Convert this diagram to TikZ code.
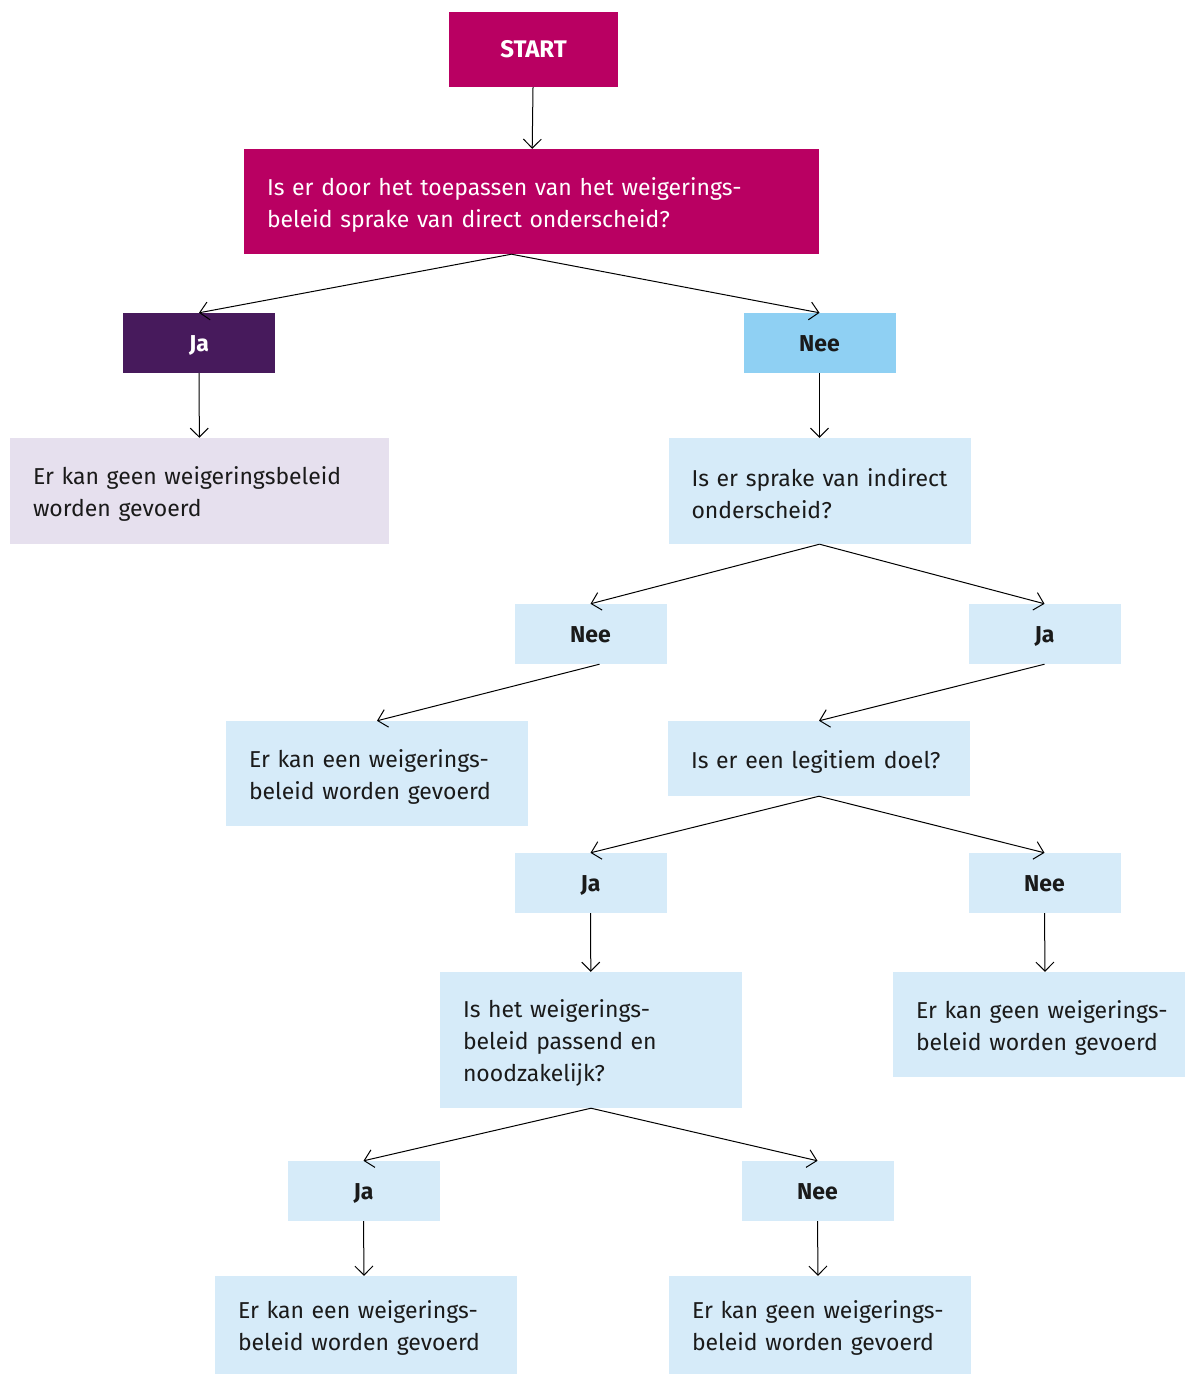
\documentclass[tikz,border=0pt]{standalone}
\usepackage{fontspec}
\setmainfont{Fira Sans}
\usetikzlibrary{arrows.meta}
\definecolor{rmagenta}{HTML}{B90062}
\definecolor{rpurple}{HTML}{471A5C}
\definecolor{rblue}{HTML}{8FD0F3}
\definecolor{rpale}{HTML}{D6EBF9}
\definecolor{rlilac}{HTML}{E6E0EE}
\definecolor{rtext}{HTML}{1A1A1A}

\begin{document}
\begin{tikzpicture}
[x=1pt, y=-1pt,
 qbox/.style={rectangle, inner xsep=23pt, inner ysep=0pt, text=rtext, font=\fontsize{23}{32}\selectfont,
   execute at begin node={\raggedright\rightskip=-30pt plus 1fil\hyphenpenalty=10000\rule{0pt}{24pt}}},
 answer/.style={rectangle, inner sep=0pt, minimum width=152pt, minimum height=60pt, text height=16pt, text depth=-4pt, text=rtext, font=\bfseries\fontsize{23}{26}\selectfont},
 flow/.style={-{Straight Barb[length=9pt, width=18pt]}, line width=1pt, color=black}]
\useasboundingbox (0,0) rectangle (1186,1375);
\node (start) [answer, fill=rmagenta, text=white, minimum width=169pt, minimum height=75pt, font=\bfseries\fontsize{24}{26}\selectfont] at (533.5, 49.5) {START};
\node (q1) [qbox, fill=rmagenta, text=white, minimum width=575pt, minimum height=105pt, text width=529pt] at (531.5, 201.5) {Is er door het toepassen van het weigerings-\\beleid sprake van direct onderscheid?};
\node (ja1) [answer, fill=rpurple, text=white] at (199, 343) {Ja};
\node (nee1) [answer, fill=rblue] at (819.5, 343) {Nee};
\node (res1) [qbox, fill=rlilac, minimum width=379pt, minimum height=106pt, text width=333pt] at (199.5, 491) {Er kan geen weigeringsbeleid\\worden gevoerd};
\node (q2) [qbox, fill=rpale, minimum width=302pt, minimum height=106pt, text width=256pt] at (819.5, 491) {Is er sprake van indirect\\onderscheid?};
\node (nee2) [answer, fill=rpale] at (590.5, 634) {Nee};
\node (ja2) [answer, fill=rpale] at (1044.5, 634) {Ja};
\node (res2) [qbox, fill=rpale, minimum width=302pt, minimum height=105pt, text width=256pt] at (377, 773.5) {Er kan een weigerings-\\beleid worden gevoerd};
\node (q3) [qbox, fill=rpale, minimum width=302pt, minimum height=75pt, text width=256pt] at (819, 758.5) {Is er een legitiem doel?};
\node (ja3) [answer, fill=rpale] at (590.5, 883) {Ja};
\node (nee3) [answer, fill=rpale] at (1044.5, 883) {Nee};
\node (q4) [qbox, fill=rpale, minimum width=302pt, minimum height=136pt, text width=256pt] at (591, 1040) {Is het weigerings-\\beleid passend en\\noodzakelijk?};
\node (res3) [qbox, fill=rpale, minimum width=292pt, minimum height=105pt, text width=246pt] at (1039, 1024.5) {Er kan geen weigerings-\\beleid worden gevoerd};
\node (ja4) [answer, fill=rpale] at (363.5, 1191) {Ja};
\node (nee4) [answer, fill=rpale] at (817.5, 1191) {Nee};
\node (res4) [qbox, fill=rpale, minimum width=302pt, minimum height=98pt, text width=256pt] at (366, 1325) {Er kan een weigerings-\\beleid worden gevoerd};
\node (res5) [qbox, fill=rpale, minimum width=302pt, minimum height=98pt, text width=256pt] at (820, 1325) {Er kan geen weigerings-\\beleid worden gevoerd};
% connectors
\draw [flow] (start) -- (q1);
\draw [flow] ([xshift=-20pt]q1.south) -- (ja1.north);
\draw [flow] ([xshift=-20pt]q1.south) -- (nee1.north);
\draw [flow] (ja1) -- (res1);
\draw [flow] (nee1) -- (q2);
\draw [flow] (q2.south) -- (nee2.north);
\draw [flow] (q2.south) -- (ja2.north);
\draw [flow] ([xshift=9pt]nee2.south) -- (res2.north);
\draw [flow] (ja2.south) -- (q3.north);
\draw [flow] (q3.south) -- (ja3.north);
\draw [flow] (q3.south) -- (nee3.north);
\draw [flow] (ja3) -- (q4);
\draw [flow] (nee3.south) -- ([xshift=6pt]res3.north);
\draw [flow] (q4.south) -- (ja4.north);
\draw [flow] (q4.south) -- (nee4.north);
\draw [flow] (ja4.south) -- ([xshift=-2pt]res4.north);
\draw [flow] (nee4.south) -- ([xshift=-2pt]res5.north);
\end{tikzpicture}
\end{document}
